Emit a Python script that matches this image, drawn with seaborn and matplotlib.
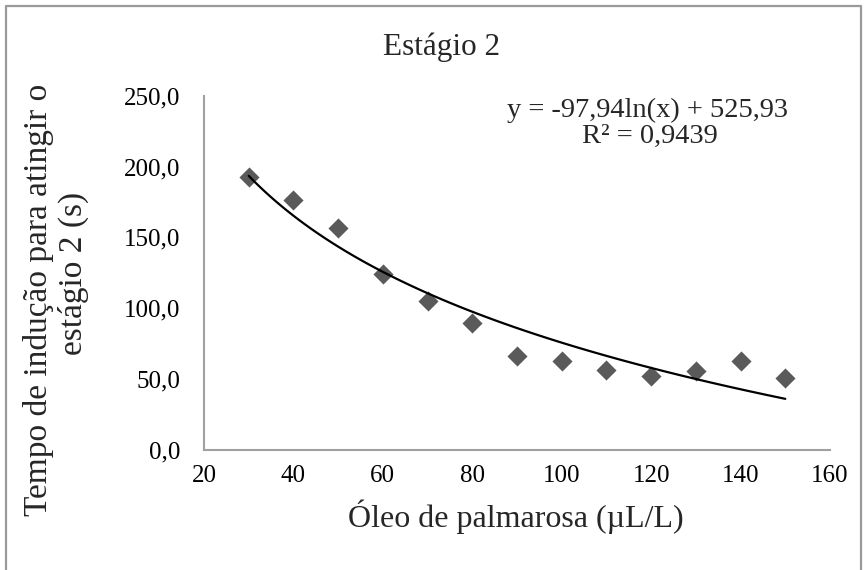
import numpy as np
import pandas as pd
import matplotlib
matplotlib.use("Agg")
import matplotlib.pyplot as plt
import seaborn as sns
from matplotlib.lines import Line2D

# ---- data ----
oleo = [30, 40, 50, 60, 70, 80, 90, 100, 110, 120, 130, 140, 150]
tempo = [193.0, 176.6, 156.6, 124.3, 104.7, 89.5, 65.9, 62.4, 56.0, 52.3, 55.3, 62.4, 50.6]
x_ticks = [20, 40, 60, 80, 100, 120, 140, 160]
y_ticks = [0, 50, 100, 150, 200, 250]
y_tick_labels = ["0,0", "50,0", "100,0", "150,0", "200,0", "250,0"]
title = "Estágio 2"
xlabel = "Óleo de palmarosa (µL/L)"
ylabel_lines = ["Tempo de indução para atingir o", "estágio 2 (s)"]
eq_lines = ["y = -97,94ln(x) + 525,93", "R² = 0,9439"]

sns.set_style("white")
plt.rcParams['font.family'] = ['Liberation Serif', 'DejaVu Serif']

W, H = 868, 570
fig = plt.figure(figsize=(W / 100, H / 100), dpi=100)
ax = fig.add_axes([204 / W, 1 - 449.5 / H, (830 - 204) / W, (449.5 - 96) / H])

df = pd.DataFrame({"x": oleo, "y": tempo})
sns.scatterplot(data=df, x="x", y="y", marker="D", s=105, color="#5a5a5a",
                linewidth=0, ax=ax, zorder=2)
sns.regplot(data=df, x="x", y="y", logx=True, ci=None, scatter=False,
            line_kws=dict(color="black", lw=1.6, zorder=3), ax=ax)

ax.set_xlim(20, 160)
ax.set_ylim(0, 250)
ax.set_xticks(x_ticks)
ax.set_xticklabels([str(t) for t in x_ticks])
ax.set_yticks(y_ticks)
ax.set_yticklabels(y_tick_labels)
ax.tick_params(axis="both", length=0, labelsize=18, colors="black")
ax.tick_params(axis="x", pad=11)
ax.tick_params(axis="y", pad=17)
ax.set_xlabel("")
ax.set_ylabel("")
for s in ["top", "right"]:
    ax.spines[s].set_visible(False)
for s in ["left", "bottom"]:
    ax.spines[s].set_color("#a0a0a0")
    ax.spines[s].set_linewidth(1.5)

def fx(px):
    return px / W

def fy(py):
    return 1 - py / H

fig.text(fx(442), fy(55), title, ha="center", va="baseline", fontsize=22.5)
fig.text(fx(515.5), fy(527), xlabel, ha="center", va="baseline", fontsize=23)
fig.text(fx(39), fy(300), ylabel_lines[0], rotation=90, ha="center", va="center", fontsize=24)
fig.text(fx(73.5), fy(273), ylabel_lines[1], rotation=90, ha="center", va="center", fontsize=24)
fig.text(fx(647.5), fy(117), eq_lines[0], ha="center", va="baseline", fontsize=20.5)
fig.text(fx(650), fy(143), eq_lines[1], ha="center", va="baseline", fontsize=20.5)

# outer chart border (left, top, right)
border = Line2D([fx(6), fx(6), fx(861), fx(861)], [fy(575), fy(6), fy(6), fy(575)],
                transform=fig.transFigure, color="#9a9a9a", lw=1.6)
fig.add_artist(border)

fig.savefig("out.png", dpi=100)
